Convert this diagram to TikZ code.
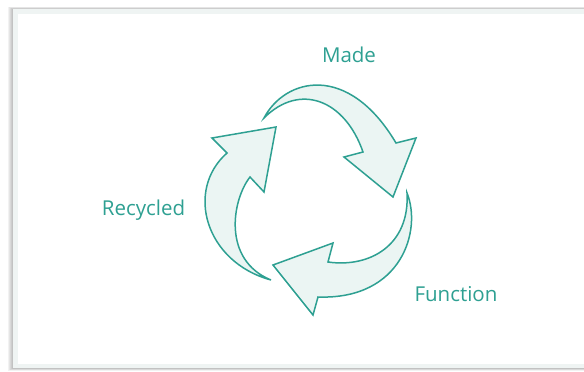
\documentclass[tikz,border=0pt]{standalone}
\usepackage{fontspec}
\setmainfont{Open Sans}
\usepackage{tikz}

\definecolor{teal1}{RGB}{46,160,146}
\definecolor{tealfill}{RGB}{235,245,243}
\definecolor{panelrim}{RGB}{239,244,243}

\begin{document}
\begin{tikzpicture}[x=1pt, y=-1pt,
    cyclearrow/.style={draw=teal1, line width=1.5pt, line join=miter, fill=tealfill},
    lbl/.style={text=teal1, font=\fontsize{20.5}{22}\selectfont, inner sep=0pt, anchor=base}]
      \useasboundingbox (0, 0) rectangle (584, 372);
      \fill[white] (0, 0) rectangle (584, 372);
      % soft shadow round the panel
      \foreach \s in {5, 4, 3, 2, 1}
        \fill[black, opacity=0.05] (13-\s, 9-\s/2) rectangle (600, 368+\s/2);
      \fill[panelrim] (13, 9) rectangle (600, 368);
      \fill[white] (18, 14) rectangle (600, 364);

      % top arrow
      \draw[cyclearrow] (264, 118) .. controls (285, 78) and (348, 62) .. (396, 143)
        -- (416, 138) -- (393, 197) -- (344, 157) -- (363, 152)
        .. controls (345, 100) and (300, 82) .. cycle;
      % left arrow
      \draw[cyclearrow] (271, 280) .. controls (205, 262) and (185, 190) .. (227, 153)
        -- (212, 138) -- (276, 127) -- (264, 192) -- (250, 177)
        .. controls (232, 200) and (222, 260) .. cycle;
      % bottom arrow
      \draw[cyclearrow] (407, 193) .. controls (422, 230) and (402, 300) .. (318, 297)
        -- (313, 315) -- (273, 265) -- (333, 243) -- (328, 262)
        .. controls (370, 268) and (410, 245) .. cycle;

      \node[lbl] (made) at (349, 62.5) {Made};
      \node[lbl] (recycled) at (143.5, 215.5) {Recycled};
      \node[lbl] (function) at (456, 301.5) {Function};
\end{tikzpicture}
\end{document}
